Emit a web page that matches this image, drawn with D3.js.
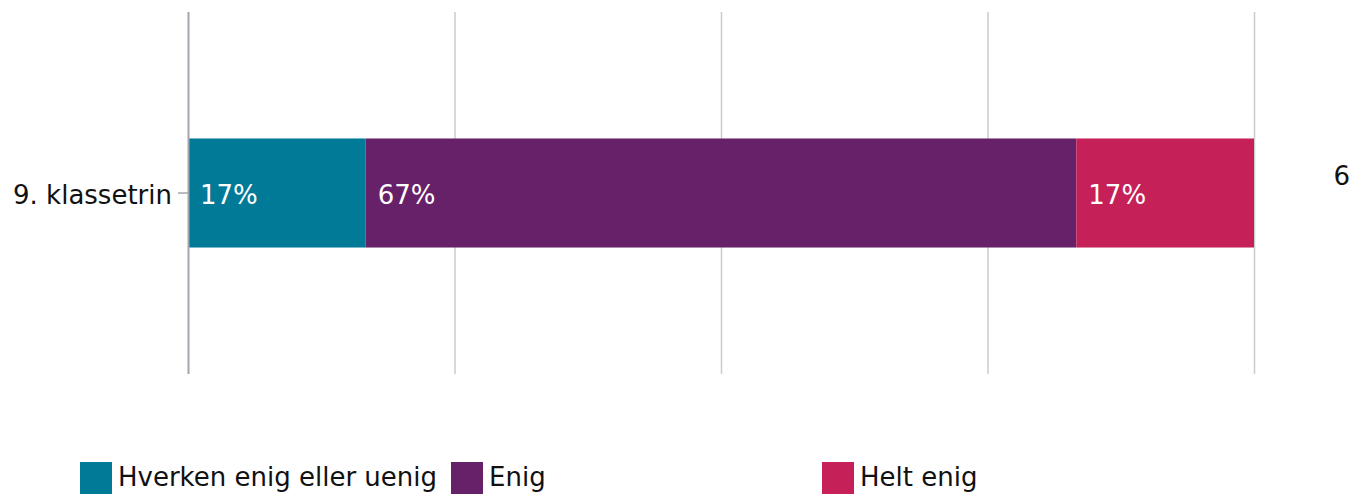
<!DOCTYPE html>
<html>
<head>
<meta charset="utf-8">
<script src="https://cdn.jsdelivr.net/npm/d3@7"></script>
<style>
  html, body { margin: 0; padding: 0; background: #fff; }
  svg { display: block; font-family: "DejaVu Sans", Verdana, sans-serif; }
</style>
</head>
<body>
<svg id="chart" width="1354" height="494"></svg>
<script>
// Survey answers for one grade: response counts per answer option
const categories = ["9. klassetrin"];
const seriesNames = ["Hverken enig eller uenig", "Enig", "Helt enig"];
const seriesCounts = [[1], [4], [1]];
const totals = [6];
const colors = ["#017a98", "#662168", "#c52057"];
const xTicks = [0, 25, 50, 75, 100];

const svg = d3.select("#chart");
const margin = { left: 188, top: 12 };
const plotBottom = 374;

const x = d3.scaleLinear().domain([0, 100]).range([margin.left, 1254]);
const y = d3.scaleBand().domain(categories).range([margin.top, plotBottom]).paddingInner(0).paddingOuter(1.16);
const color = d3.scaleOrdinal().domain(seriesNames).range(colors);

// rows of percentages, stacked left to right
const rows = categories.map((c, i) => {
  const row = { category: c, total: totals[i] };
  seriesNames.forEach((s, j) => { row[s] = seriesCounts[j][i] / totals[i] * 100; });
  return row;
});
const stacked = d3.stack().keys(seriesNames)(rows);

// vertical gridlines
svg.append("g")
  .selectAll("line")
  .data(xTicks.slice(1))
  .join("line")
  .attr("x1", d => x(d) + 0.5).attr("x2", d => x(d) + 0.5)
  .attr("y1", margin.top).attr("y2", plotBottom)
  .attr("stroke", "#c9ccd1").attr("stroke-width", 1.5);

// bars
const layer = svg.append("g").selectAll("g")
  .data(stacked)
  .join("g")
  .attr("fill", d => color(d.key));

layer.selectAll("rect")
  .data(d => d.map(v => ({ v, key: d.key })))
  .join("rect")
  .attr("x", d => x(d.v[0]))
  .attr("width", d => x(d.v[1]) - x(d.v[0]))
  .attr("y", d => y(d.v.data.category))
  .attr("height", y.bandwidth());

// value labels inside each segment
layer.selectAll("text")
  .data(d => d.map(v => ({ v, key: d.key })))
  .join("text")
  .attr("x", d => x(d.v[0]) + 12)
  .attr("y", d => y(d.v.data.category) + y.bandwidth() / 2)
  .attr("dy", "0.42em")
  .attr("fill", "#fff")
  .attr("font-size", 26)
  .text(d => Math.round(d.v[1] - d.v[0]) + "%");

// category axis
const yAxis = svg.append("g")
  .attr("transform", `translate(${margin.left},0)`)
  .call(d3.axisLeft(y).tickSize(10).tickPadding(6));
yAxis.select(".domain")
  .attr("d", `M0.5,${margin.top}V${plotBottom}`)
  .attr("stroke", "#a2a6ad").attr("stroke-width", 2);
yAxis.selectAll(".tick line").attr("stroke", "#a2a6ad").attr("stroke-width", 1.5);
yAxis.selectAll(".tick text")
  .attr("font-size", 26).attr("fill", "#111")
  .attr("font-family", "\"DejaVu Sans\", Verdana, sans-serif")
  .attr("dy", "0.42em");

// respondent count to the right
svg.append("g").selectAll("text")
  .data(rows)
  .join("text")
  .attr("x", 1350)
  .attr("y", d => y(d.category) + y.bandwidth() / 2 - 8)
  .attr("text-anchor", "end")
  .attr("font-size", 26).attr("fill", "#111")
  .text(d => d.total);

// legend
const legend = svg.append("g").attr("transform", "translate(80,462)");
const item = legend.selectAll("g")
  .data(seriesNames)
  .join("g")
  .attr("transform", (d, i) => `translate(${i * 371},0)`);
item.append("rect")
  .attr("width", 32).attr("height", 32)
  .attr("fill", d => color(d));
item.append("text")
  .attr("x", 38).attr("y", 24)
  .attr("font-size", 26).attr("fill", "#111")
  .text(d => d);
</script>
</body>
</html>
